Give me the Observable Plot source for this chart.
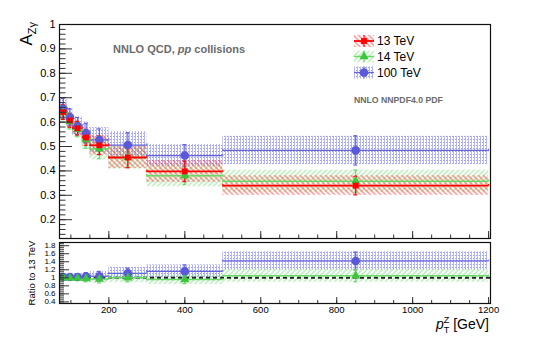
<!DOCTYPE html>
<html><head><meta charset="utf-8">
<script src="https://cdn.jsdelivr.net/npm/d3@7"></script>
<script src="https://cdn.jsdelivr.net/npm/@observablehq/plot@0.6"></script>
<style>
html,body{margin:0;padding:0;background:#fff;}
#wrap{position:relative;width:545px;height:346px;overflow:hidden;}
#wrap svg{position:absolute;left:0;}
</style></head><body>
<svg width="0" height="0" style="position:absolute;left:-10px;top:-10px">
<defs>
<pattern id="hatch13" width="3.6" height="3.6" patternUnits="userSpaceOnUse" patternTransform="rotate(-45)">
<line x1="1.8" y1="0" x2="1.8" y2="3.6" stroke="#ff2020" stroke-width="0.9" stroke-opacity="0.8"/>
</pattern>
<pattern id="hatch14" width="3.6" height="3.6" patternUnits="userSpaceOnUse" patternTransform="rotate(45)">
<line x1="1.8" y1="0" x2="1.8" y2="3.6" stroke="#5cd65c" stroke-width="0.9" stroke-opacity="0.7"/>
</pattern>
<pattern id="hatch100" width="3" height="3" patternUnits="userSpaceOnUse">
<rect x="0" y="0" width="1" height="3" fill="#b3b5f0"/>
<rect x="2" y="1" width="1" height="1" fill="#9c9eea"/>
</pattern>
</defs>
</svg>
<div id="wrap"></div>
<script>
// ---- data ----
const binLo = [70, 90, 105, 130, 150, 200, 300, 500];
const binHi = [90, 105, 130, 150, 200, 300, 500, 1200];

const val13  = [0.641, 0.607, 0.575, 0.537, 0.505, 0.455, 0.398, 0.340];
const err13  = [0.030, 0.028, 0.028, 0.032, 0.038, 0.042, 0.042, 0.038];
const band13 = [0.030, 0.030, 0.030, 0.035, 0.040, 0.045, 0.045, 0.040];

const val14  = [0.640, 0.602, 0.570, 0.528, 0.490, 0.455, 0.380, 0.358];
const err14  = [0.030, 0.030, 0.030, 0.035, 0.040, 0.040, 0.035, 0.045];
const band14 = [0.032, 0.032, 0.032, 0.040, 0.045, 0.048, 0.045, 0.045];

const val100  = [0.655, 0.620, 0.584, 0.555, 0.527, 0.506, 0.463, 0.484];
const err100  = [0.042, 0.035, 0.035, 0.040, 0.045, 0.050, 0.045, 0.060];
const band100 = [0.038, 0.038, 0.038, 0.045, 0.050, 0.055, 0.045, 0.058];

const ratio14     = [1.00, 0.99, 0.99, 0.98, 0.97, 1.00, 0.955, 1.05];
const ratioErr14  = [0.05, 0.05, 0.06, 0.08, 0.10, 0.10, 0.10, 0.15];
const ratioBand14 = [0.06, 0.06, 0.07, 0.09, 0.11, 0.12, 0.12, 0.16];

const ratio100     = [1.02, 1.02, 1.02, 1.03, 1.04, 1.11, 1.16, 1.42];
const ratioErr100  = [0.07, 0.07, 0.08, 0.10, 0.12, 0.13, 0.16, 0.22];
const ratioBand100 = [0.07, 0.07, 0.08, 0.10, 0.12, 0.15, 0.16, 0.23];

const seriesNames = ["13 TeV", "14 TeV", "100 TeV"];
const yTicksMain = [0.2, 0.3, 0.4, 0.5, 0.6, 0.7, 0.8, 0.9, 1];
const yTicksRatio = [0.4, 0.6, 0.8, 1, 1.2, 1.4, 1.6, 1.8];
const xTicks = [200, 400, 600, 800, 1000, 1200];

// ---- styles ----
const sty = {
  "13 TeV":  {line: "#ff0000", mark: "#ff0000", fill: "url(#hatch13)", symbol: "square", r: 3.3, lw: 1.8},
  "14 TeV":  {line: "#66d966", mark: "#3fc43f", fill: "url(#hatch14)", symbol: "triangle", r: 3.4, lw: 1.5},
  "100 TeV": {line: "#6464dc", mark: "#5a5ad8", fill: "url(#hatch100)", symbol: "circle", r: 4.3, lw: 1.2}
};

function rows(vals, errs, bands) {
  return binLo.map((lo, i) => ({lo, hi: binHi[i], c: (lo + binHi[i]) / 2, v: vals[i], e: errs[i], b: bands[i]}));
}
const main = {
  "13 TeV": rows(val13, err13, band13),
  "14 TeV": rows(val14, err14, band14),
  "100 TeV": rows(val100, err100, band100)
};
const ratio = {
  "14 TeV": rows(ratio14, ratioErr14, ratioBand14),
  "100 TeV": rows(ratio100, ratioErr100, ratioBand100)
};

const W = 545, ML = 59, MR = 55;
const innerW = W - ML - MR;
const font = "Liberation Sans, Arial, Helvetica, sans-serif";
const xDomain = [70, 1205];

function seriesMarks(name, data, capY, capX) {
  const s = sty[name];
  return [
    Plot.ruleY(data, {x1: "lo", x2: "hi", y: "v", stroke: s.line, strokeWidth: s.lw}),
    Plot.ruleX(data, {x: "lo", y1: d => d.v - capY, y2: d => d.v + capY, stroke: s.line, strokeWidth: 1}),
    Plot.ruleX(data, {x: "hi", y1: d => d.v - capY, y2: d => d.v + capY, stroke: s.line, strokeWidth: 1}),
    Plot.ruleX(data, {x: "c", y1: d => d.v - d.e, y2: d => d.v + d.e, stroke: s.line, strokeWidth: 1.2}),
    Plot.ruleY(data, {x1: d => d.c - capX, x2: d => d.c + capX, y: d => d.v - d.e, stroke: s.line, strokeWidth: 1.2}),
    Plot.ruleY(data, {x1: d => d.c - capX, x2: d => d.c + capX, y: d => d.v + d.e, stroke: s.line, strokeWidth: 1.2}),
  ];
}
function dotMarks(name, data) {
  const s = sty[name];
  return Plot.dot(data, {x: "c", y: "v", symbol: () => s.symbol, r: s.r, fill: s.mark, stroke: "none"});
}
function bandMarks(name, data) {
  const s = sty[name];
  return Plot.rect(data, {x1: "lo", x2: "hi", y1: d => d.v - d.b, y2: d => d.v + d.b, fill: s.fill});
}
function minorTicks(lo, hi, step) {
  const out = [];
  for (let k = Math.ceil(lo / step - 1e-9); k * step <= hi + 1e-9; k++) out.push(+(k * step).toFixed(4));
  return out;
}

// ---- main panel ----
const mainH = 242, mainMT = 24, mainMB = 4, mainInnerH = mainH - mainMT - mainMB;
const yDomMain = [0.123, 1];
const mainPlot = Plot.plot({
  width: W, height: mainH,
  marginLeft: ML, marginRight: MR, marginTop: mainMT, marginBottom: mainMB,
  style: {fontFamily: font, background: "transparent", overflow: "visible"},
  x: {domain: xDomain, axis: null},
  y: {domain: yDomMain},
  symbol: {type: "identity"},
  marks: [
    bandMarks("100 TeV", main["100 TeV"]),
    bandMarks("14 TeV", main["14 TeV"]),
    bandMarks("13 TeV", main["13 TeV"]),
    ...seriesMarks("100 TeV", main["100 TeV"], 0.005, 5),
    ...seriesMarks("14 TeV", main["14 TeV"], 0.005, 5),
    ...seriesMarks("13 TeV", main["13 TeV"], 0.005, 5),
    dotMarks("100 TeV", main["100 TeV"]),
    dotMarks("14 TeV", main["14 TeV"]),
    dotMarks("13 TeV", main["13 TeV"]),
    Plot.ruleY(minorTicks(0.14, 1, 0.02), {y: d => d, insetRight: innerW - 6.5, stroke: "#333", strokeWidth: 1}),
    Plot.ruleY(yTicksMain, {y: d => d, insetRight: innerW - 13, stroke: "#333", strokeWidth: 1}),
    Plot.ruleX(minorTicks(100, 1200, 50), {x: d => d, insetTop: mainInnerH - 3.5, stroke: "#333"}),
    Plot.ruleX(xTicks, {x: d => d, insetTop: mainInnerH - 7, stroke: "#333"}),
    Plot.axisY({ticks: yTicksMain, tickSize: 0, tickPadding: 4, fontSize: 11, label: null, tickFormat: d3.format("")}),
    Plot.frame({stroke: "#111", strokeWidth: 1.2})
  ]
});

// ---- ratio panel ----
const ratH = 104, ratMT = 0, ratMB = 43, ratInnerH = ratH - ratMT - ratMB;
const ratioPlot = Plot.plot({
  width: W, height: ratH,
  marginLeft: ML, marginRight: MR, marginTop: ratMT, marginBottom: ratMB,
  style: {fontFamily: font, background: "transparent", overflow: "visible"},
  x: {domain: xDomain},
  y: {domain: [0.36, 1.88]},
  symbol: {type: "identity"},
  marks: [
    bandMarks("100 TeV", ratio["100 TeV"]),
    bandMarks("14 TeV", ratio["14 TeV"]),
    Plot.ruleY([1], {stroke: "#222", strokeWidth: 2, strokeDasharray: "4,3"}),
    ...seriesMarks("100 TeV", ratio["100 TeV"], 0.02, 5),
    ...seriesMarks("14 TeV", ratio["14 TeV"], 0.02, 5),
    dotMarks("100 TeV", ratio["100 TeV"]),
    dotMarks("14 TeV", ratio["14 TeV"]),
    Plot.ruleY(minorTicks(0.4, 1.85, 0.05), {y: d => d, insetRight: innerW - 5, stroke: "#333"}),
    Plot.ruleY(yTicksRatio, {y: d => d, insetRight: innerW - 10, stroke: "#333"}),
    Plot.ruleX(minorTicks(100, 1200, 50), {x: d => d, insetTop: ratInnerH - 3, stroke: "#333"}),
    Plot.ruleX(xTicks, {x: d => d, insetTop: ratInnerH - 6, stroke: "#333"}),
    Plot.axisY({ticks: yTicksRatio, tickSize: 0, tickPadding: 4, fontSize: 8, label: null, tickFormat: d3.format("")}),
    Plot.axisX({ticks: xTicks, tickSize: 0, tickPadding: 3, fontSize: 9.5, label: null, tickFormat: d3.format("")}),
    Plot.frame({stroke: "#111", strokeWidth: 1.2})
  ]
});

const wrap = document.getElementById("wrap");
mainPlot.style.top = "0px";
ratioPlot.style.top = mainH + "px";
wrap.appendChild(mainPlot);
wrap.appendChild(ratioPlot);

// ---- annotations ----
const ms = d3.select(mainPlot);
const t1 = ms.append("text").attr("transform", "translate(32,22) rotate(-90)")
  .attr("text-anchor", "end").attr("font-size", 17).attr("fill", "#000");
t1.append("tspan").text("A");
t1.append("tspan").attr("font-size", 11).attr("dy", 4).text("Zγ");

const t2 = ms.append("text").attr("x", 113).attr("y", 53).attr("font-size", 11)
  .attr("text-anchor", "start").attr("font-weight", "bold").attr("fill", "#6b6b6b");
t2.append("tspan").text("NNLO QCD, ");
t2.append("tspan").attr("font-style", "italic").text("pp");
t2.append("tspan").text(" collisions");

ms.append("text").attr("x", 354).attr("y", 103).attr("font-size", 8.7).attr("font-weight", "bold")
  .attr("text-anchor", "start").attr("fill", "#6b6b6b").text("NNLO NNPDF4.0 PDF");

// legend
const legY = [41, 56.5, 72.5];
seriesNames.forEach((name, i) => {
  const s = sty[name], y = legY[i];
  const g = ms.append("g");
  g.append("rect").attr("x", 354).attr("y", y - 6).attr("width", 20).attr("height", 12).attr("fill", s.fill);
  g.append("line").attr("x1", 354).attr("x2", 374).attr("y1", y).attr("y2", y).attr("stroke", s.line).attr("stroke-width", s.lw);
  g.append("line").attr("x1", 364).attr("x2", 364).attr("y1", y - 6).attr("y2", y + 6).attr("stroke", s.line).attr("stroke-width", 1);
  g.append("path").attr("transform", `translate(364,${y})`)
    .attr("d", d3.symbol(s.symbol === "square" ? d3.symbolSquare : s.symbol === "triangle" ? d3.symbolTriangle : d3.symbolCircle, Math.PI * s.r * s.r)())
    .attr("fill", s.mark);
  g.append("text").attr("x", 377).attr("y", y + 4.3).attr("text-anchor", "start").attr("font-size", 12).attr("fill", "#000").text(name);
});

const rs = d3.select(ratioPlot);
rs.append("text").attr("transform", "translate(35,31) rotate(-90)").attr("text-anchor", "middle")
  .attr("font-size", 9.5).attr("fill", "#000").text("Ratio to 13 TeV");

const t3 = rs.append("text").attr("x", 489).attr("y", 87).attr("text-anchor", "end").attr("font-size", 14).attr("fill", "#000");
t3.append("tspan").attr("font-style", "italic").text("p");
t3.append("tspan").attr("font-size", 9).attr("dy", -6).text("Z");
t3.append("tspan").attr("font-size", 9).attr("dx", -5.5).attr("dy", 10).text("T");
t3.append("tspan").attr("dy", -4).text(" [GeV]");
</script>
</body></html>
